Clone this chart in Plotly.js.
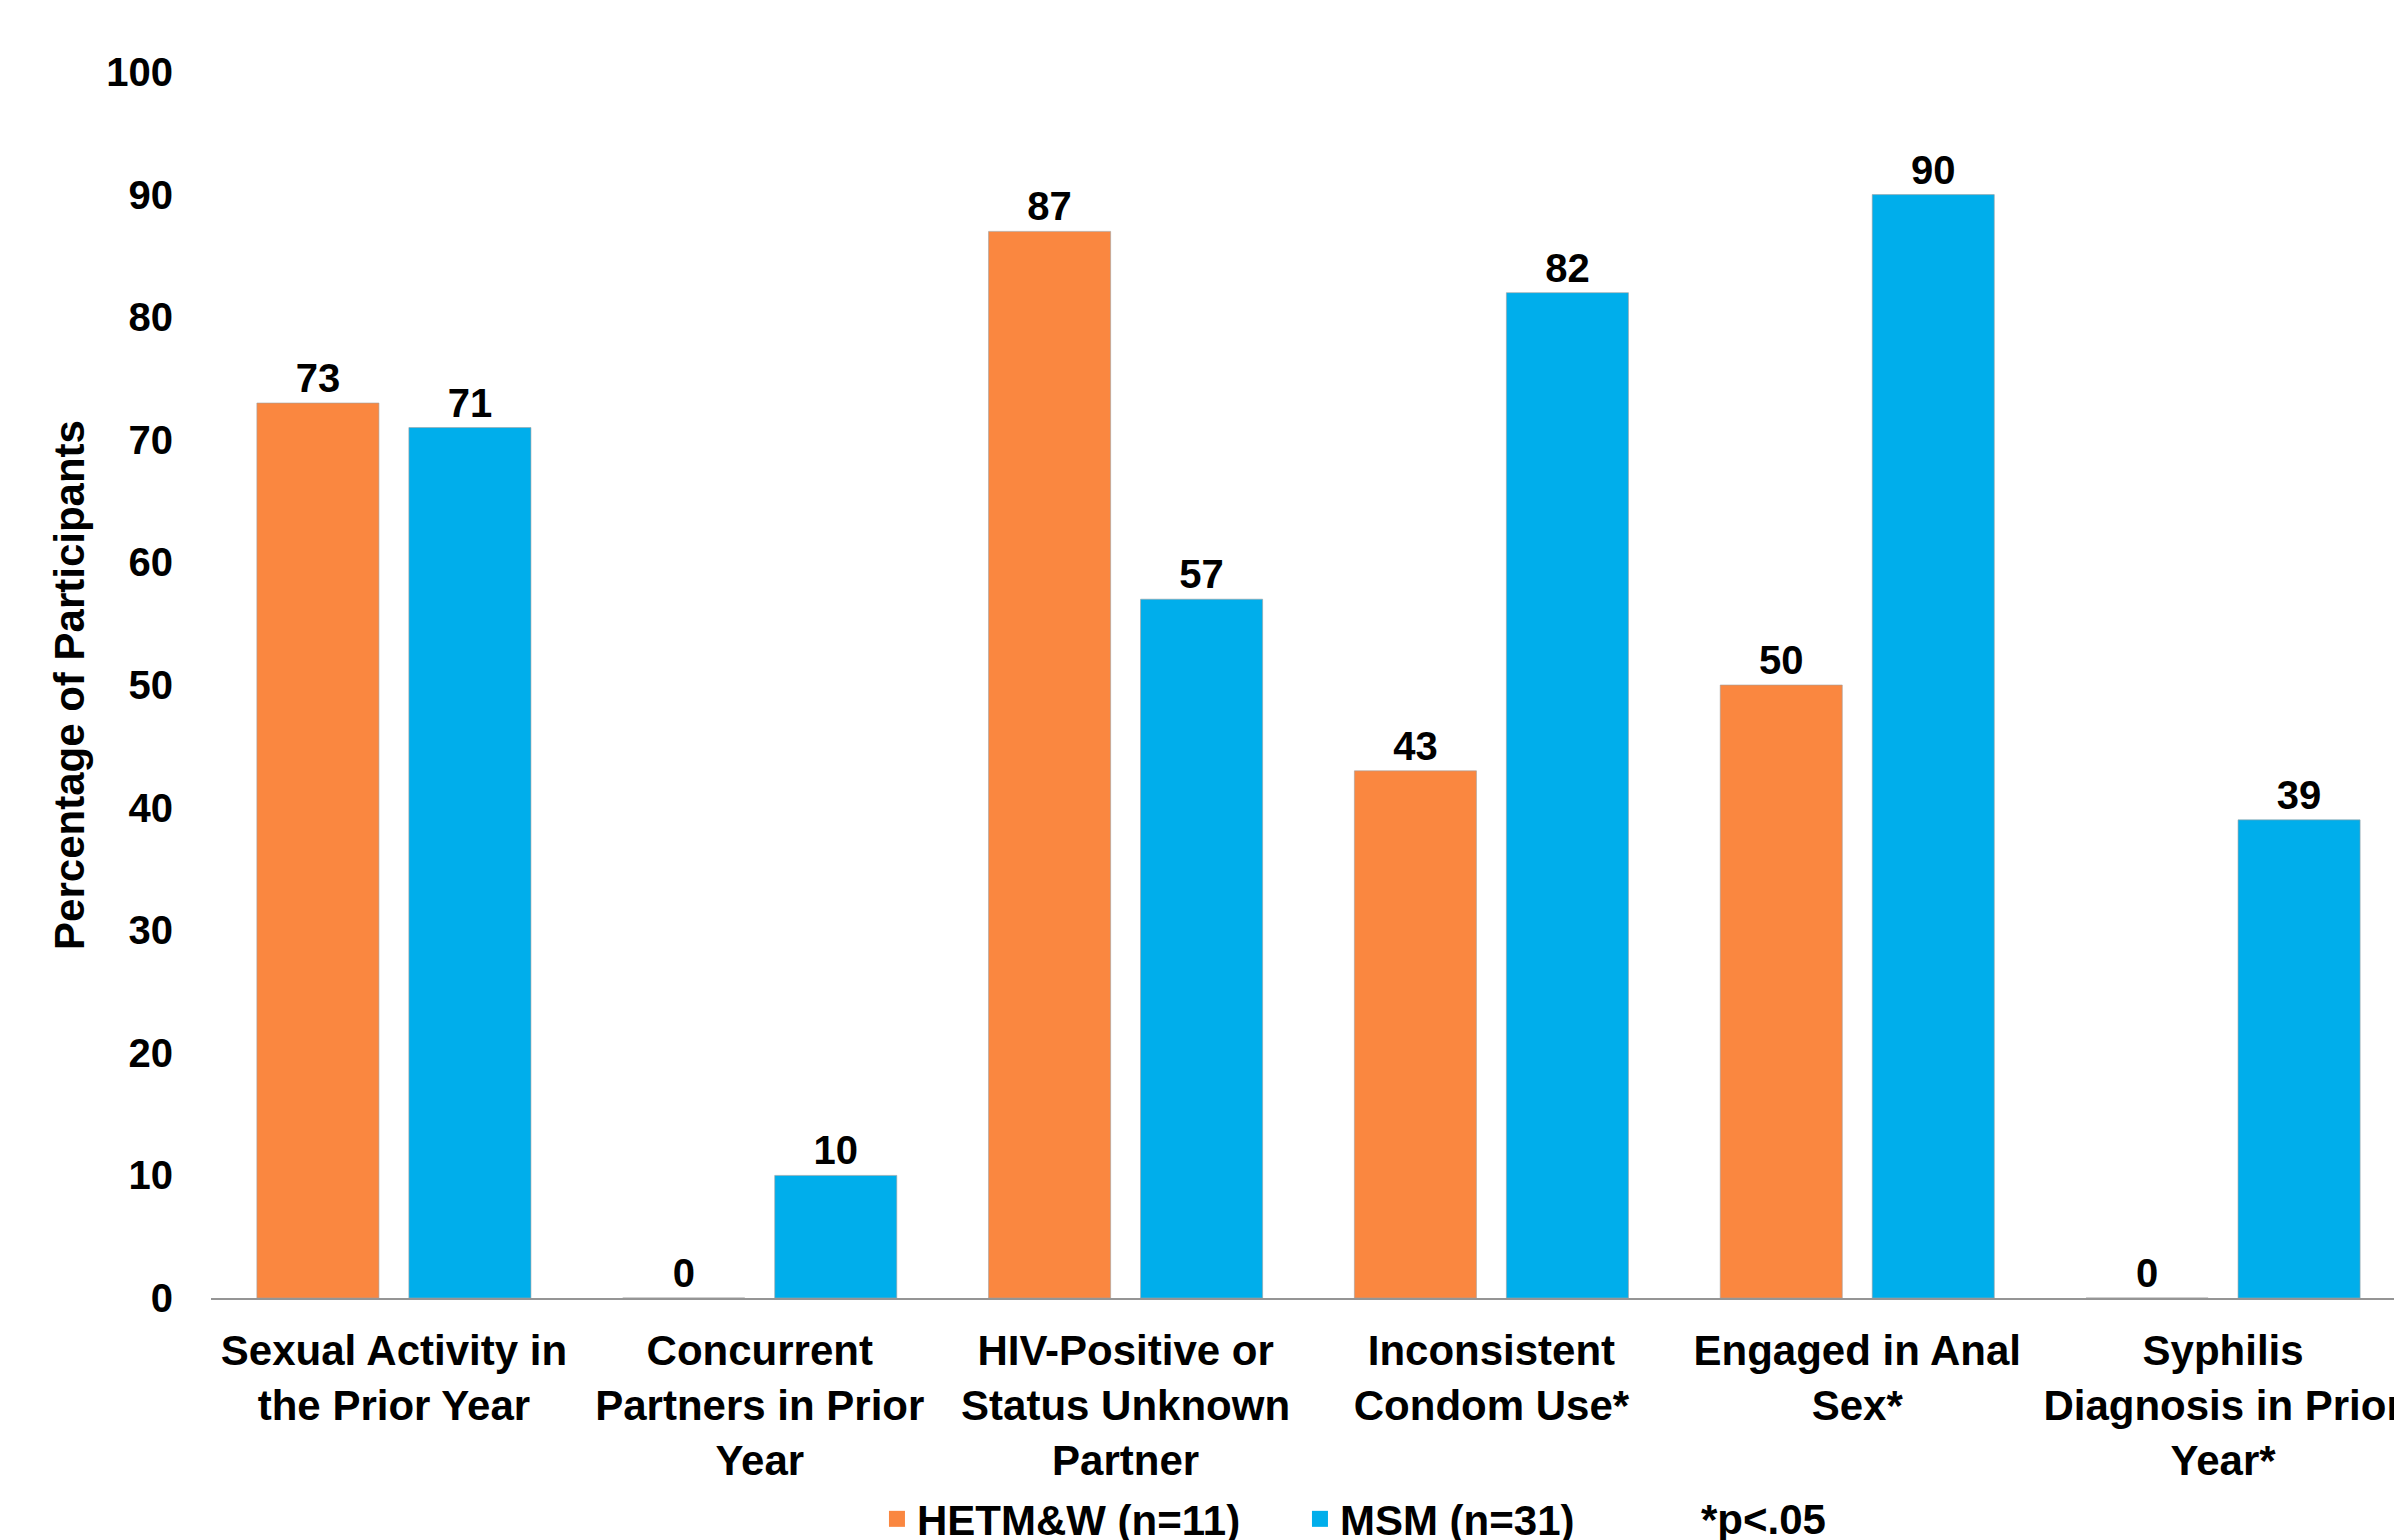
<!DOCTYPE html>
<html>
<head>
<meta charset="utf-8">
<script src="https://cdn.plot.ly/plotly-3.0.1.min.js"></script>
<style>
  html, body { margin: 0; padding: 0; background: #ffffff; overflow: hidden; }
  #chart { width: 2420px; height: 1540px; }
</style>
</head>
<body>
<div id="chart"></div>
<script>
const categories = [
  'Sexual Activity in<br>the Prior Year',
  'Concurrent<br>Partners in Prior<br>Year',
  'HIV-Positive or<br>Status Unknown<br>Partner',
  'Inconsistent<br>Condom Use*',
  'Engaged in Anal<br>Sex*',
  'Syphilis<br>Diagnosis in Prior<br>Year*'
];
const hetmwValues = [73, 0, 87, 43, 50, 0];
const msmValues = [71, 10, 57, 82, 90, 39];
const seriesNames = ['HETM&W (n=11)', 'MSM (n=31)'];
const yTicks = [0, 10, 20, 30, 40, 50, 60, 70, 80, 90, 100];
const yTitle = 'Percentage of Participants';
const footnote = '*p<.05';

const FONT = 'Liberation Sans, Arial, Helvetica, sans-serif';
const ORANGE = '#FA8740';
const BLUE = '#00AEEB';
const COLORS = [ORANGE, BLUE];

const barCommon = {
  type: 'bar',
  x: categories,
  texttemplate: '%{y}',
  textposition: 'outside',
  cliponaxis: false,
  showlegend: false,
  textfont: { family: FONT, size: 40, color: '#000000', weight: 'bold' },
  hoverinfo: 'skip'
};

const seriesValues = [hetmwValues, msmValues];

const traces = seriesValues.map((vals, i) => Object.assign({}, barCommon, {
  name: seriesNames[i],
  y: vals,
  marker: { color: COLORS[i], line: { color: 'rgba(160,160,160,0.6)', width: 1 } }
}));

// legend entries (square swatches like the reference)
seriesNames.forEach((nm, i) => {
  traces.push({
    type: 'scatter',
    mode: 'markers',
    x: [null],
    y: [null],
    name: nm,
    showlegend: true,
    hoverinfo: 'skip',
    marker: { symbol: 'square', size: 20, color: COLORS[i] }
  });
});

const layout = {
  width: 2420,
  height: 1540,
  paper_bgcolor: '#ffffff',
  plot_bgcolor: '#ffffff',
  margin: { l: 211, r: 14, t: 72, b: 242, autoexpand: false },
  barmode: 'group',
  bargap: 0.169,
  bargroupgap: 0.197,
  font: { family: FONT, size: 42, color: '#000000', weight: 'bold' },
  xaxis: {
    type: 'category',
    automargin: false,
    showline: true,
    linecolor: '#959595',
    linewidth: 2,
    showgrid: false,
    zeroline: false,
    ticks: 'outside',
    ticklen: 15,
    tickcolor: 'rgba(0,0,0,0)',
    tickfont: { family: FONT, size: 42, color: '#000000', weight: 'bold' }
  },
  yaxis: {
    range: [0, 100],
    automargin: false,
    tickvals: yTicks,
    ticktext: yTicks.map(String),
    showline: false,
    showgrid: false,
    zeroline: false,
    ticks: 'outside',
    ticklen: 29,
    tickcolor: 'rgba(0,0,0,0)',
    tickfont: { family: FONT, size: 40, color: '#000000', weight: 'bold' },
    title: {
      text: yTitle,
      standoff: 8,
      font: { family: FONT, size: 42, color: '#000000', weight: 'bold' }
    }
  },
  showlegend: true,
  legend: {
    orientation: 'h',
    x: 0.3034,
    xanchor: 'left',
    y: -0.1803,
    yanchor: 'middle',
    entrywidth: 378,
    itemsizing: 'trace',
    bgcolor: 'rgba(0,0,0,0)',
    font: { family: FONT, size: 42, color: '#000000', weight: 'bold' }
  },
  annotations: [{
    text: footnote,
    xref: 'paper', yref: 'paper',
    x: 0.7075, y: -0.1803,
    xanchor: 'center', yanchor: 'middle',
    showarrow: false,
    font: { family: FONT, size: 42, color: '#000000', weight: 'bold' }
  }]
};

Plotly.newPlot('chart', traces, layout, { staticPlot: true, displayModeBar: false });
</script>
</body>
</html>
